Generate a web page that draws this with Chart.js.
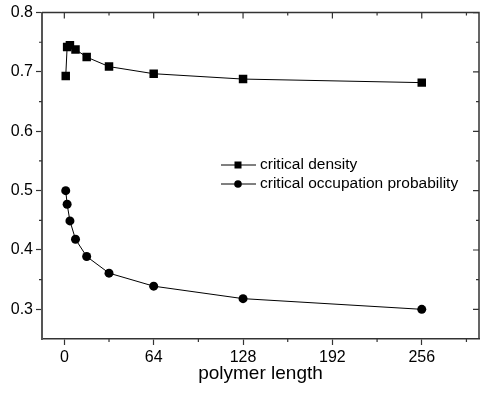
<!DOCTYPE html>
<html>
<head>
<meta charset="utf-8">
<script src="https://cdn.jsdelivr.net/npm/chart.js@4/dist/chart.umd.min.js"></script>
<style>
  body { margin: 0; background: #fff; }
</style>
</head>
<body>
<canvas id="myChart" width="480" height="399"></canvas>
<script>
'use strict';

// DATA
let polymerLength = [1, 2, 4, 8, 16, 32, 64, 128, 256];
let criticalDensity = [0.693, 0.742, 0.745, 0.738, 0.725, 0.709, 0.697, 0.688, 0.682];
let occupationProb = [0.500, 0.477, 0.449, 0.418, 0.389, 0.361, 0.339, 0.318, 0.300];
let xTicks = [0, 64, 128, 192, 256];
let xMinorTicks = [32, 96, 160, 224, 288];
let yTicks = [0.3, 0.4, 0.5, 0.6, 0.7, 0.8];
let yMinorTicks = [0.35, 0.45, 0.55, 0.65, 0.75];
let seriesNames = ['critical density', 'critical occupation probability'];

function toPoints(ys) {
  let pts = [];
  for (let i = 0; i < polymerLength.length; i++) {
    pts.push({ x: polymerLength[i], y: ys[i] });
  }
  return pts;
}

const axisColor = '#333';

// frame on top/right + minor ticks
const framePlugin = {
  id: 'frame',
  afterDraw(chart) {
    const ctx = chart.ctx;
    const a = chart.chartArea;
    const xs = chart.scales.x;
    const ys = chart.scales.y;
    ctx.save();
    ctx.strokeStyle = axisColor;
    ctx.lineWidth = 1.5;
    ctx.beginPath();
    ctx.moveTo(a.left, a.top);
    ctx.lineTo(a.right, a.top);
    ctx.lineTo(a.right, a.bottom);
    ctx.stroke();

    ctx.lineWidth = 1.2;
    ctx.beginPath();
    xTicks.forEach(v => {
      let px = xs.getPixelForValue(v);
      ctx.moveTo(px, a.top); ctx.lineTo(px, a.top + 6);
    });
    xMinorTicks.forEach(v => {
      let px = xs.getPixelForValue(v);
      ctx.moveTo(px, a.top); ctx.lineTo(px, a.top + 3);
      ctx.moveTo(px, a.bottom); ctx.lineTo(px, a.bottom + 3);
    });
    yTicks.forEach(v => {
      let py = ys.getPixelForValue(v);
      ctx.moveTo(a.right, py); ctx.lineTo(a.right - 6, py);
    });
    yMinorTicks.forEach(v => {
      let py = ys.getPixelForValue(v);
      ctx.moveTo(a.right, py); ctx.lineTo(a.right - 3, py);
      ctx.moveTo(a.left, py); ctx.lineTo(a.left - 3, py);
    });
    ctx.stroke();
    ctx.restore();
  }
};

// legend in the style of the original plot
const legendPlugin = {
  id: 'lineLegend',
  afterDraw(chart) {
    const ctx = chart.ctx;
    const rows = [
      { name: seriesNames[0], style: 'rect', y: 165 },
      { name: seriesNames[1], style: 'circle', y: 184 }
    ];
    ctx.save();
    rows.forEach(r => {
      ctx.strokeStyle = '#000';
      ctx.lineWidth = 1;
      ctx.beginPath();
      ctx.moveTo(221, r.y); ctx.lineTo(256, r.y);
      ctx.stroke();
      ctx.fillStyle = '#000';
      if (r.style === 'rect') {
        ctx.fillRect(234.5, r.y - 3.5, 7, 7);
      } else {
        ctx.beginPath();
        ctx.arc(238, r.y, 3.8, 0, Math.PI * 2);
        ctx.fill();
      }
      ctx.font = '15.5px "Liberation Sans", Arial, sans-serif';
      ctx.textBaseline = 'middle';
      ctx.fillText(r.name, 260, r.y);
    });
    ctx.restore();
  }
};

const data = {
  datasets: [{
    label: seriesNames[0],
    data: toPoints(criticalDensity),
    showLine: true,
    borderColor: '#000',
    borderWidth: 1,
    backgroundColor: '#000',
    pointStyle: 'rect',
    pointRadius: 6,
    pointBorderWidth: 0
  },
  {
    label: seriesNames[1],
    data: toPoints(occupationProb),
    showLine: true,
    borderColor: '#000',
    borderWidth: 1,
    backgroundColor: '#000',
    pointStyle: 'circle',
    pointRadius: 4.5,
    pointBorderWidth: 0
  }]
};

const tickFont = { family: '"Liberation Sans", Arial, sans-serif', size: 16 };

const ctx = document.getElementById('myChart');
const myChart = new Chart(ctx, {
  type: 'scatter',
  data: data,
  plugins: [framePlugin, legendPlugin],
  options: {
    responsive: false,
    animation: false,
    layout: { autoPadding: false, padding: { top: 12, right: 1, left: 0, bottom: 0 } },
    plugins: {
      legend: { display: false },
      tooltip: { enabled: false }
    },
    scales: {
      x: {
        type: 'linear',
        min: -16,
        max: 297,
        afterBuildTicks: (axis) => { axis.ticks = xTicks.map(v => ({ value: v })); },
        afterFit: (axis) => { axis.height = 60; axis.paddingLeft = 0; axis.paddingRight = 0; },
        ticks: { color: '#000', font: tickFont, padding: 3, maxRotation: 0, callback: v => String(v) },
        grid: { drawOnChartArea: false, drawTicks: true, tickLength: 6, tickColor: axisColor, tickWidth: 1.2 },
        border: { display: true, color: axisColor, width: 1.5 },
        title: {
          display: true,
          text: 'polymer length',
          color: '#000',
          font: { family: '"Liberation Sans", Arial, sans-serif', size: 19 },
          padding: { top: 0, bottom: 14 }
        }
      },
      y: {
        min: 0.25,
        max: 0.8,
        afterBuildTicks: (axis) => { axis.ticks = yTicks.map(v => ({ value: v })); },
        afterFit: (axis) => { axis.width = 42; },
        ticks: { color: '#000', font: tickFont, padding: 3, callback: v => v.toFixed(1) },
        grid: { drawOnChartArea: false, drawTicks: true, tickLength: 6, tickColor: axisColor, tickWidth: 1.2 },
        border: { display: true, color: '#555', width: 2 }
      }
    }
  }
});
</script>
</body>
</html>
